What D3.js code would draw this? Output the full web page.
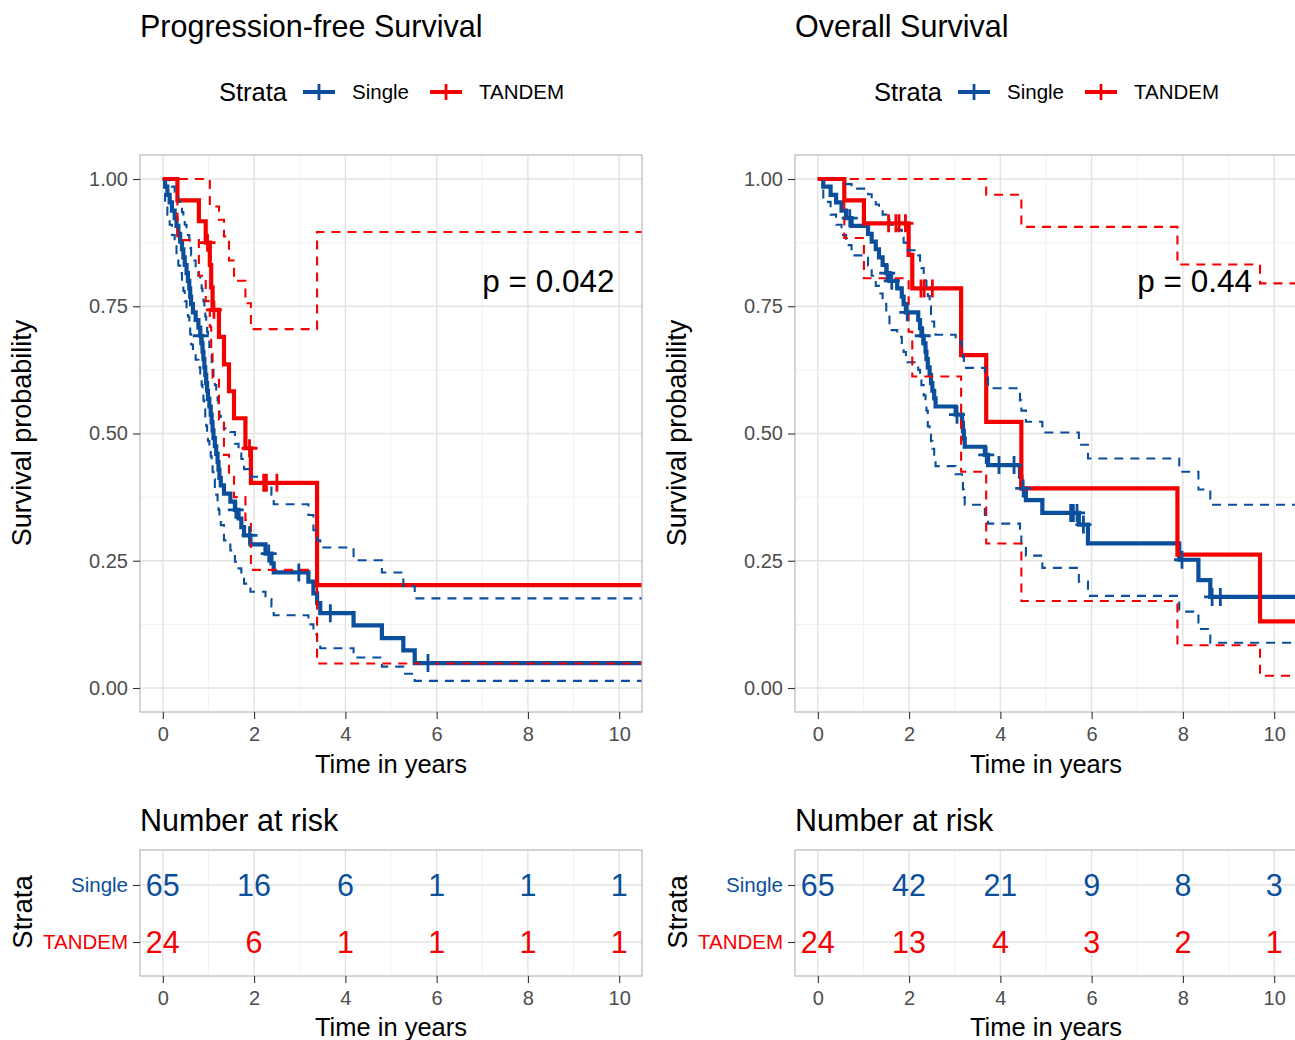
<!DOCTYPE html>
<html>
<head>
<meta charset="utf-8">
<script src="https://cdn.jsdelivr.net/npm/d3@7"></script>
<style>
    body { margin: 0; background: #fff; }
    text { font-family: "Liberation Sans", Arial, sans-serif; }
</style>
</head>
<body>
<svg width="1295" height="1040"></svg>
<script>
    // ---- data ----
    var strata = ['Single', 'TANDEM'];
    var timeTicks = [0, 2, 4, 6, 8, 10];
    var probTicks = [0, 0.25, 0.5, 0.75, 1];
    var followUpEnd = 11;

    var pfsTitle = 'Progression-free Survival';
    var pfsPValue = 'p = 0.042';
    var pfsSingleTime = [0, 0.05, 0.10, 0.15, 0.20, 0.26, 0.30, 0.34, 0.38, 0.42, 0.45, 0.48, 0.52, 0.55, 0.58, 0.60, 0.62, 0.66, 0.72, 0.78, 0.82, 0.85, 0.87, 0.89, 0.91, 0.93, 0.95, 0.97, 0.99, 1.02, 1.05, 1.07, 1.09, 1.11, 1.14, 1.17, 1.20, 1.22, 1.24, 1.27, 1.34, 1.48, 1.58, 1.66, 1.72, 1.78, 1.92, 2.25, 2.38, 2.43, 3.19, 3.30, 3.38, 3.45, 4.18, 4.80, 5.27, 5.52];
    var pfsSingleSurv = [1, 0.985, 0.969, 0.954, 0.938, 0.923, 0.908, 0.892, 0.877, 0.862, 0.846, 0.831, 0.815, 0.800, 0.785, 0.769, 0.754, 0.738, 0.723, 0.708, 0.692, 0.677, 0.661, 0.646, 0.630, 0.615, 0.599, 0.584, 0.568, 0.553, 0.537, 0.522, 0.506, 0.491, 0.475, 0.460, 0.444, 0.429, 0.413, 0.398, 0.382, 0.366, 0.350, 0.333, 0.316, 0.300, 0.282, 0.264, 0.245, 0.227, 0.209, 0.186, 0.167, 0.147, 0.123, 0.098, 0.074, 0.049];
    var pfsSingleUpper = [1, 1, 1, 0.99, 0.985, 0.975, 0.965, 0.955, 0.945, 0.935, 0.92, 0.91, 0.90, 0.89, 0.875, 0.865, 0.85, 0.84, 0.825, 0.81, 0.80, 0.785, 0.77, 0.76, 0.745, 0.73, 0.715, 0.70, 0.685, 0.67, 0.655, 0.64, 0.625, 0.61, 0.595, 0.58, 0.565, 0.55, 0.535, 0.523, 0.51, 0.503, 0.48, 0.465, 0.45, 0.43, 0.415, 0.40, 0.38, 0.361, 0.34, 0.31, 0.29, 0.276, 0.251, 0.227, 0.20, 0.176];
    var pfsSingleLower = [1, 0.955, 0.93, 0.91, 0.89, 0.87, 0.85, 0.83, 0.815, 0.795, 0.78, 0.76, 0.745, 0.73, 0.71, 0.695, 0.675, 0.66, 0.645, 0.63, 0.61, 0.595, 0.58, 0.565, 0.55, 0.53, 0.515, 0.50, 0.485, 0.47, 0.455, 0.44, 0.425, 0.41, 0.395, 0.38, 0.365, 0.35, 0.335, 0.32, 0.29, 0.27, 0.248, 0.235, 0.22, 0.205, 0.189, 0.175, 0.16, 0.143, 0.125, 0.105, 0.09, 0.078, 0.060, 0.042, 0.028, 0.014];
    var pfsSingleCensor = [0.83, 1.60, 1.90, 2.32, 2.98, 3.67, 5.81];

    var pfsTandemTime = [0, 0.32, 0.79, 0.94, 1.03, 1.06, 1.09, 1.23, 1.34, 1.45, 1.56, 1.81, 1.93, 3.38];
    var pfsTandemSurv = [1, 0.958, 0.917, 0.875, 0.831, 0.787, 0.743, 0.690, 0.636, 0.583, 0.530, 0.471, 0.403, 0.202];
    var pfsTandemUpper = [1, 1, 1, 1, 0.946, 0.946, 0.946, 0.92, 0.887, 0.84, 0.80, 0.756, 0.705, 0.896];
    var pfsTandemLower = [1, 0.88, 0.81, 0.76, 0.71, 0.66, 0.61, 0.527, 0.458, 0.42, 0.375, 0.33, 0.232, 0.048];
    var pfsTandemCensor = [0.98, 1.12, 1.90, 2.21, 2.27, 2.50];

    var pfsRiskSingle = [65, 16, 6, 1, 1, 1];
    var pfsRiskTandem = [24, 6, 1, 1, 1, 1];

    var osTitle = 'Overall Survival';
    var osPValue = 'p = 0.44';
    var osSingleTime = [0, 0.12, 0.28, 0.40, 0.52, 0.62, 0.74, 1.10, 1.18, 1.27, 1.34, 1.42, 1.50, 1.57, 1.74, 1.84, 1.88, 1.93, 2.20, 2.24, 2.27, 2.32, 2.36, 2.38, 2.41, 2.45, 2.48, 2.51, 2.55, 2.58, 3.02, 3.16, 3.18, 3.20, 3.22, 3.66, 3.73, 4.43, 4.46, 4.56, 4.92, 5.72, 5.92, 7.92, 8.34, 8.60];
    var osSingleSurv = [1, 0.985, 0.969, 0.954, 0.938, 0.923, 0.908, 0.892, 0.877, 0.862, 0.846, 0.831, 0.815, 0.800, 0.785, 0.769, 0.754, 0.738, 0.723, 0.707, 0.692, 0.677, 0.661, 0.646, 0.630, 0.615, 0.599, 0.584, 0.569, 0.553, 0.537, 0.521, 0.505, 0.490, 0.474, 0.458, 0.438, 0.415, 0.392, 0.369, 0.344, 0.321, 0.284, 0.252, 0.212, 0.179];
    var osSingleUpper = [1, 1, 1, 1, 0.995, 0.99, 0.981, 0.97, 0.96, 0.95, 0.94, 0.93, 0.92, 0.91, 0.90, 0.885, 0.875, 0.86, 0.85, 0.835, 0.825, 0.81, 0.80, 0.785, 0.77, 0.75, 0.735, 0.72, 0.705, 0.694, 0.68, 0.665, 0.65, 0.64, 0.629, 0.61, 0.589, 0.565, 0.545, 0.523, 0.502, 0.478, 0.451, 0.425, 0.39, 0.36];
    var osSingleLower = [1, 0.955, 0.93, 0.91, 0.89, 0.87, 0.85, 0.83, 0.81, 0.79, 0.775, 0.755, 0.73, 0.703, 0.69, 0.675, 0.66, 0.64, 0.625, 0.61, 0.595, 0.575, 0.56, 0.545, 0.514, 0.50, 0.485, 0.47, 0.455, 0.436, 0.42, 0.405, 0.39, 0.375, 0.36, 0.34, 0.323, 0.30, 0.28, 0.26, 0.236, 0.209, 0.181, 0.15, 0.116, 0.089];
    var osSingleCensor = [0.70, 1.52, 1.62, 1.96, 2.30, 3.05, 3.69, 3.97, 4.30, 4.50, 5.54, 5.60, 5.68, 5.82, 7.98, 8.64, 8.82];

    var osTandemTime = [0, 0.58, 1.01, 1.99, 2.07, 3.14, 3.69, 4.46, 7.88, 9.69];
    var osTandemSurv = [1, 0.958, 0.913, 0.851, 0.785, 0.654, 0.523, 0.392, 0.262, 0.131];
    var osTandemUpper = [1, 1, 1, 1, 1, 1, 0.969, 0.906, 0.832, 0.795];
    var osTandemLower = [1, 0.884, 0.805, 0.70, 0.612, 0.425, 0.284, 0.171, 0.084, 0.024];
    var osTandemCensor = [1.55, 1.71, 1.78, 1.92, 2.26, 2.33, 2.51];

    var osRiskSingle = [65, 42, 21, 9, 8, 3];
    var osRiskTandem = [24, 13, 4, 3, 2, 1];

    // ---- drawing ----
    var blue = '#0b4f9c';
    var red = '#f40000';
    var colors = [blue, red];
    var svg = d3.select('svg');

    var panels = [
        {
            dx: 0, id: 'pfs', title: pfsTitle, pval: pfsPValue,
            series: [
                { time: pfsSingleTime, surv: pfsSingleSurv, lower: pfsSingleLower, upper: pfsSingleUpper, censor: pfsSingleCensor },
                { time: pfsTandemTime, surv: pfsTandemSurv, lower: pfsTandemLower, upper: pfsTandemUpper, censor: pfsTandemCensor }
            ],
            risk: [pfsRiskSingle, pfsRiskTandem]
        },
        {
            dx: 655, id: 'os', title: osTitle, pval: osPValue,
            series: [
                { time: osSingleTime, surv: osSingleSurv, lower: osSingleLower, upper: osSingleUpper, censor: osSingleCensor },
                { time: osTandemTime, surv: osTandemSurv, lower: osTandemLower, upper: osTandemUpper, censor: osTandemCensor }
            ],
            risk: [osRiskSingle, osRiskTandem]
        }
    ];

    var minorTimes = timeTicks.slice(1).map((t, i) => (t + timeTicks[i]) / 2);
    var minorProbs = probTicks.slice(1).map((p, i) => (p + probTicks[i]) / 2);

    function steps(times, values) {
        var pts = times.map((t, i) => [t, values[i]]);
        pts.push([followUpEnd, values[values.length - 1]]);
        return pts;
    }

    function styleAxis(sel) {
        sel.select('.domain').remove();
        sel.selectAll('line').attr('stroke', '#333').attr('stroke-width', 1.1);
        sel.selectAll('text').attr('font-size', 20).attr('fill', '#4d4d4d')
            .attr('font-family', '"Liberation Sans", Arial, sans-serif');
    }

    panels.forEach(drawPanel);

    function drawPanel(p) {
        var g = svg.append('g').attr('transform', 'translate(' + p.dx + ',0)');
        var x = d3.scaleLinear().domain([-0.5, 10.5]).range([140, 642]);
        var y = d3.scaleLinear().domain([0, 1]).range([688, 179]);

        // title
        g.append('text').attr('x', 140).attr('y', 37).attr('font-size', 30.5).text(p.title);

        // legend
        var leg = g.append('g');
        leg.append('text').attr('x', 219).attr('y', 92).attr('dy', '0.35em')
            .attr('font-size', 25.5).text('Strata');
        var keyX = [303, 430];
        strata.forEach((s, i) => {
            leg.append('line').attr('x1', keyX[i]).attr('x2', keyX[i] + 32)
                .attr('y1', 92).attr('y2', 92)
                .attr('stroke', colors[i]).attr('stroke-width', 4);
            leg.append('line').attr('x1', keyX[i] + 16).attr('x2', keyX[i] + 16)
                .attr('y1', 84).attr('y2', 100)
                .attr('stroke', colors[i]).attr('stroke-width', 2.8);
            leg.append('text').attr('x', keyX[i] + 49).attr('y', 92).attr('dy', '0.35em')
                .attr('font-size', 20.5).text(s);
        });

        // panel grid
        var grid = g.append('g');
        grid.selectAll('.vmin').data(minorTimes).enter().append('line')
            .attr('x1', d => x(d)).attr('x2', d => x(d)).attr('y1', 155).attr('y2', 712)
            .attr('stroke', '#f1f1f1').attr('stroke-width', 0.9);
        grid.selectAll('.hmin').data(minorProbs).enter().append('line')
            .attr('y1', d => y(d)).attr('y2', d => y(d)).attr('x1', 140).attr('x2', 642)
            .attr('stroke', '#f1f1f1').attr('stroke-width', 0.9);
        grid.selectAll('.vmaj').data(timeTicks).enter().append('line')
            .attr('x1', d => x(d)).attr('x2', d => x(d)).attr('y1', 155).attr('y2', 712)
            .attr('stroke', '#e3e3e3').attr('stroke-width', 1.4);
        grid.selectAll('.hmaj').data(probTicks).enter().append('line')
            .attr('y1', d => y(d)).attr('y2', d => y(d)).attr('x1', 140).attr('x2', 642)
            .attr('stroke', '#e3e3e3').attr('stroke-width', 1.4);

        // curves
        g.append('clipPath').attr('id', 'clip-' + p.id).append('rect')
            .attr('x', 140).attr('y', 155).attr('width', 502).attr('height', 557);
        var plot = g.append('g').attr('clip-path', 'url(#clip-' + p.id + ')');
        var line = d3.line().x(d => x(d[0])).y(d => y(d[1])).curve(d3.curveStepAfter);

        p.series.forEach((s, i) => {
            plot.append('path').datum(steps(s.time, s.surv)).attr('d', line)
                .attr('fill', 'none').attr('stroke', colors[i]).attr('stroke-width', 4.2);
        });
        p.series.forEach((s, i) => {
            [s.upper, s.lower].forEach(ci => {
                plot.append('path').datum(steps(s.time, ci)).attr('d', line)
                    .attr('fill', 'none').attr('stroke', colors[i]).attr('stroke-width', 2.1)
                    .attr('stroke-dasharray', '9,7');
            });
        });
        p.series.forEach((s, i) => {
            var marks = s.censor.map(t => [t, s.surv[d3.bisectRight(s.time, t) - 1]]);
            plot.selectAll(null).data(marks).enter().append('path')
                .attr('d', d => 'M' + (x(d[0]) - 8) + ',' + y(d[1]) + 'h16M' + x(d[0]) + ',' + (y(d[1]) - 9) + 'v18')
                .attr('stroke', colors[i]).attr('stroke-width', 2.8).attr('fill', 'none');
        });

        // p value
        g.append('text').attr('x', x(7)).attr('y', y(0.8)).attr('dy', '0.35em')
            .attr('font-size', 31.5).text(p.pval);

        // border
        g.append('rect').attr('x', 140).attr('y', 155).attr('width', 502).attr('height', 557)
            .attr('fill', 'none').attr('stroke', '#bdbdbd').attr('stroke-width', 1.3);

        // axes
        g.append('g').attr('transform', 'translate(140,0)')
            .call(d3.axisLeft(y).tickValues(probTicks).tickFormat(d3.format('.2f')).tickSize(7).tickPadding(5))
            .call(styleAxis);
        g.append('g').attr('transform', 'translate(0,712)')
            .call(d3.axisBottom(x).tickValues(timeTicks).tickSize(7).tickPadding(8))
            .call(styleAxis);
        g.append('text').attr('transform', 'translate(22,433) rotate(-90)')
            .attr('text-anchor', 'middle').attr('dy', '0.35em').attr('font-size', 27)
            .text('Survival probability');
        g.append('text').attr('x', 391).attr('y', 764).attr('dy', '0.35em')
            .attr('text-anchor', 'middle').attr('font-size', 25.5).text('Time in years');

        // ---- risk table ----
        var ty = d3.scalePoint().domain(strata).range([885, 942]);
        g.append('text').attr('x', 140).attr('y', 831).attr('font-size', 30.5).text('Number at risk');
        var tgrid = g.append('g');
        tgrid.selectAll('.tvmin').data(minorTimes).enter().append('line')
            .attr('x1', d => x(d)).attr('x2', d => x(d)).attr('y1', 850).attr('y2', 976)
            .attr('stroke', '#f1f1f1').attr('stroke-width', 0.9);
        tgrid.selectAll('.tvmaj').data(timeTicks).enter().append('line')
            .attr('x1', d => x(d)).attr('x2', d => x(d)).attr('y1', 850).attr('y2', 976)
            .attr('stroke', '#e3e3e3').attr('stroke-width', 1.4);
        tgrid.selectAll('.thmaj').data(strata).enter().append('line')
            .attr('y1', d => ty(d)).attr('y2', d => ty(d)).attr('x1', 140).attr('x2', 642)
            .attr('stroke', '#e3e3e3').attr('stroke-width', 1.4);

        strata.forEach((s, i) => {
            g.selectAll(null).data(p.risk[i]).enter().append('text')
                .attr('x', (d, j) => x(timeTicks[j])).attr('y', ty(s)).attr('dy', '0.36em')
                .attr('text-anchor', 'middle').attr('font-size', 30.5).attr('fill', colors[i])
                .text(d => d);
        });

        g.append('rect').attr('x', 140).attr('y', 850).attr('width', 502).attr('height', 126)
            .attr('fill', 'none').attr('stroke', '#bdbdbd').attr('stroke-width', 1.3);

        var rowAxis = g.append('g').attr('transform', 'translate(140,0)')
            .call(d3.axisLeft(ty).tickSize(7).tickPadding(5))
            .call(styleAxis);
        rowAxis.selectAll('text').attr('fill', (d, i) => colors[i]).attr('font-size', 20.5);
        g.append('g').attr('transform', 'translate(0,976)')
            .call(d3.axisBottom(x).tickValues(timeTicks).tickSize(7).tickPadding(8))
            .call(styleAxis);
        g.append('text').attr('transform', 'translate(22,912) rotate(-90)')
            .attr('text-anchor', 'middle').attr('dy', '0.35em').attr('font-size', 27.5)
            .text('Strata');
        g.append('text').attr('x', 391).attr('y', 1027).attr('dy', '0.35em')
            .attr('text-anchor', 'middle').attr('font-size', 25.5).text('Time in years');
    }
</script>
</body>
</html>
